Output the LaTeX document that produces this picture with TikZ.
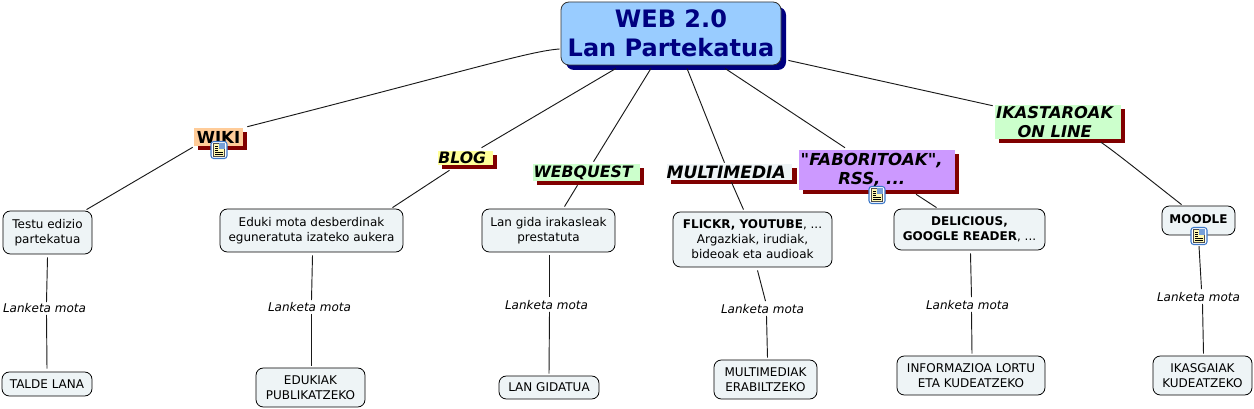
\documentclass[tikz,border=0pt]{standalone}
\usepackage{fontspec}
\setmainfont{DejaVu Sans}[Ligatures=TeXOff]
\usetikzlibrary{calc,shadows}
\definecolor{rootblue}{HTML}{99CCFF}
\definecolor{rootnavy}{HTML}{000080}
\definecolor{shadowred}{HTML}{800000}
\definecolor{wikiorange}{HTML}{FFCC99}
\definecolor{blogyellow}{HTML}{FFFF99}
\definecolor{topicgreen}{HTML}{CCFFCC}
\definecolor{favpurple}{HTML}{CC99FF}
\definecolor{notegray}{HTML}{EEF4F6}
\definecolor{iconblue}{HTML}{3C78C8}
\definecolor{iconyellow}{HTML}{FFF8B0}

\begin{document}
\begin{tikzpicture}[
  x=0.75pt, y=-0.75pt,
  sized/.style 2 args={minimum width=#1*0.75pt, minimum height=#2*0.75pt, inner sep=0pt},
  root/.style={draw=black!80, rounded corners=6pt, fill=rootblue, align=center, text=rootnavy,
               font=\fontsize{18}{21.7}\selectfont\bfseries, line width=0.6pt,
               general shadow={fill=rootnavy, shadow xshift=3.75pt, shadow yshift=-3.75pt, rounded corners=6pt}},
  topic/.style={align=center, font=\fontsize{11.8}{14.5}\selectfont\bfseries\itshape,
                general shadow={fill=shadowred, shadow xshift=3.2pt, shadow yshift=-3pt}},
  concept/.style={draw=black, rounded corners=5.5pt, fill=notegray, align=center,
                  font=\fontsize{9}{11.3}\selectfont, line width=0.6pt},
  linkphrase/.style={font=\fontsize{9}{10}\selectfont\itshape, inner sep=0pt},
  conn/.style={draw=black!90, line width=0.7pt}
]
\path[use as bounding box] (0,0) rectangle (1254,409);

% central node and first level
\node[root, sized={220}{63}] (web) at (671,33.5) {WEB 2.0\\Lan Partekatua};
\node[topic, sized={49}{18}, fill=wikiorange, font=\fontsize{12.4}{14.5}\selectfont\bfseries] (wiki) at (218.5,137) {WIKI};
\node[topic, sized={55}{14}, fill=blogyellow] (blog) at (465.5,158) {BLOG\hspace*{5pt}};
\node[topic, sized={107}{17}, fill=topicgreen] (webquest) at (586.5,172.5) {WEBQUEST\hspace*{5pt}};
\node[topic, sized={125}{16}, fill=notegray, font=\fontsize{12.8}{14.5}\selectfont\bfseries\itshape] (multimedia) at (729.5,172) {MULTIMEDIA\hspace*{5pt}};
\node[topic, sized={156}{40}, fill=favpurple, font=\fontsize{12.4}{14.5}\selectfont\bfseries\itshape] (faboritoak) at (877,170) {"FABORITOAK",\hspace*{8pt}\\RSS, ...\hspace*{8pt}};
\node[topic, sized={126}{34}, fill=topicgreen, font=\fontsize{12.2}{14.5}\selectfont\bfseries\itshape] (ikastaroak) at (1058,122) {IKASTAROAK\hspace*{5pt}\\ON LINE\hspace*{5pt}};

% second level
\node[concept, sized={89}{43}] (testu) at (47.5,232.5) {Testu edizio\\partekatua};
\node[concept, sized={183}{43}] (eduki) at (311.5,230.5) {Eduki mota desberdinak\\eguneratuta izateko aukera};
\node[concept, sized={133}{43}] (gida) at (548.5,230.5) {Lan gida irakasleak\\prestatuta};
\node[concept, sized={159}{55}] (flickr) at (752.5,239.5) {\textbf{FLICKR, YOUTUBE}, ...\\Argazkiak, irudiak,\\bideoak eta audioak};
\node[concept, sized={151}{41}] (delicious) at (969.5,229.5) {\textbf{DELICIOUS,}\\\textbf{GOOGLE READER}, ...};
\node[concept, sized={73}{29}, font=\fontsize{9}{10}\selectfont\bfseries] (moodle) at (1198.5,220.5) {\raisebox{2pt}{MOODLE}};

% link phrases
\node[linkphrase] (lanketaA) at (44.5,308) {Lanketa mota};
\node[linkphrase] (lanketaB) at (309.5,307) {Lanketa mota};
\node[linkphrase] (lanketaC) at (546.5,305) {Lanketa mota};
\node[linkphrase] (lanketaD) at (762.5,309) {Lanketa mota};
\node[linkphrase] (lanketaE) at (967.5,305) {Lanketa mota};
\node[linkphrase] (lanketaF) at (1198.5,297) {Lanketa mota};

% last level
\node[concept, sized={90}{24}] (talde) at (47,384) {TALDE LANA};
\node[concept, sized={109}{39}] (edukiak) at (310.5,387.5) {EDUKIAK\\PUBLIKATZEKO};
\node[concept, sized={100}{23}] (langidatua) at (549,387.5) {LAN GIDATUA};
\node[concept, sized={103}{39}] (erabili) at (765.5,379.5) {MULTIMEDIAK\\ERABILTZEKO};
\node[concept, sized={148}{39}] (informazioa) at (971,375.5) {INFORMAZIOA LORTU\\ETA KUDEATZEKO};
\node[concept, sized={99}{39}] (ikasgaiak) at (1202.5,375.5) {IKASGAIAK\\KUDEATZEKO};

% note icons
\foreach \icon/\ix/\iy in {wikinote/219/150,favnote/877/195,moodlenote/1199/236}{
  \node[draw=iconblue, fill=white, rounded corners=2pt, line width=0.8pt, sized={16}{17}] (\icon) at (\ix,\iy) {};
  \fill[iconyellow, draw=black!70, line width=0.3pt] ($(\icon)+(-5.5,-6.5)$) rectangle ($(\icon)+(5.5,6.5)$);
  \fill[iconblue!70] ($(\icon)+(0,-6.5)$) rectangle ($(\icon)+(5.5,-1)$);
  \foreach \ly in {-4,-2,0}{\draw[black, line width=0.35pt] ($(\icon)+(-4,\ly)$) -- ($(\icon)+(-1,\ly)$);}
  \foreach \ly in {2,4}{\draw[black, line width=0.35pt] ($(\icon)+(-4,\ly)$) -- ($(\icon)+(4,\ly)$);}
}

% connectors from the centre
\draw[conn] ($(web.west)+(-1,15.5)$) .. controls (530,51) and (470,70) .. ($(wiki.north east)+(4,-1)$);
\draw[conn] ($(web.south)+(-55,3)$) -- ($(blog.north)+(16,-3)$);
\draw[conn] ($(web.south)+(-20,3)$) -- ($(webquest.north)+(7,-2)$);
\draw[conn] ($(web.south)+(16,3)$) -- ($(multimedia.north)+(-5,-1)$);
\draw[conn] ($(web.south)+(54,3)$) -- ($(faboritoak.north)+(-32,-2)$);
\draw[conn] ($(web.south east)+(7,-5)$) -- ($(ikastaroak.north west)+(-2,1)$);

% connectors to second level
\draw[conn] ($(wiki.south west)+(-1,1)$) -- ($(testu.north)+(39,-1)$);
\draw[conn] ($(blog.south)+(-16,5)$) -- ($(eduki.north)+(81,-1)$);
\draw[conn] ($(webquest.south)+(-9,4)$) -- ($(gida.north)+(16,-2)$);
\draw[conn] ($(multimedia.south)+(2,2)$) -- ($(flickr.north)+(-9,-2)$);
\draw[conn] ($(faboritoak.south)+(39,4)$) -- ($(delicious.north)+(-33,-1)$);
\draw[conn] ($(ikastaroak.south)+(43,3)$) .. controls (1115,152) and (1135,168) .. ($(moodle.north)+(-17,-1)$);

% lower connectors through the link phrases
\draw[conn] ($(testu.south)+(0,3)$) -- ($(lanketaA.north)+(2,-1)$);
\draw[conn] ($(lanketaA.south)+(2,2)$) -- ($(talde.north)+(0,-3)$);
\draw[conn] ($(eduki.south)+(1,3)$) -- ($(lanketaB.north)+(2,-2)$);
\draw[conn] ($(lanketaB.south)+(2,2)$) -- ($(edukiak.north)+(1,-2)$);
\draw[conn] ($(gida.south)+(1,3)$) -- ($(lanketaC.north)+(3,-3)$);
\draw[conn] ($(lanketaC.south)+(3,2)$) -- ($(langidatua.north)+(0,-2)$);
\draw[conn] ($(flickr.south)+(5,3)$) -- ($(lanketaD.north)+(3,-3)$);
\draw[conn] ($(lanketaD.south)+(4,2)$) -- ($(erabili.north)+(2,-2)$);
\draw[conn] ($(delicious.south)+(1,3)$) -- ($(lanketaE.north)+(4,-3)$);
\draw[conn] ($(lanketaE.south)+(4,2)$) -- ($(informazioa.north)+(1,-2)$);
\draw[conn] ($(moodlenote.south)+(0,1)$) -- ($(lanketaF.north)+(3,-3)$);
\draw[conn] ($(lanketaF.south)+(4,2)$) -- ($(ikasgaiak.north)+(1,-2)$);
\end{tikzpicture}
\end{document}
